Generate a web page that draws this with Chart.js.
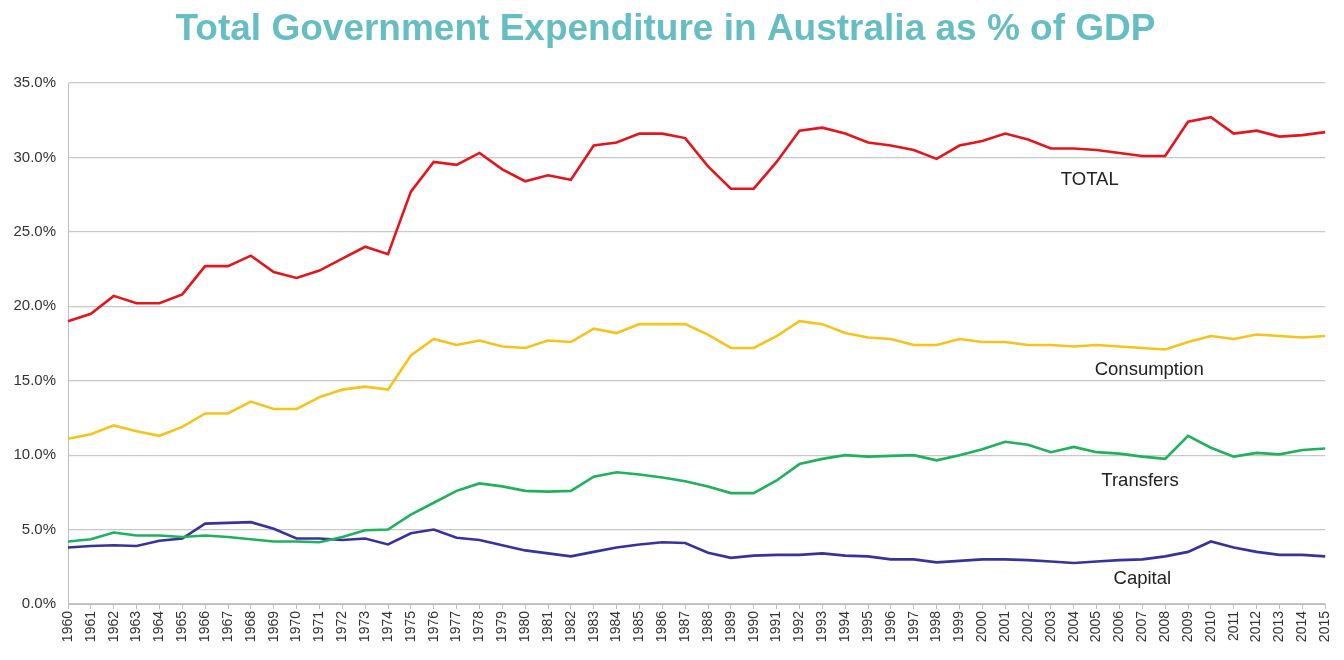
<!DOCTYPE html>
<html>
<head>
<meta charset="utf-8">
<script src="https://cdn.jsdelivr.net/npm/chart.js@4/dist/chart.umd.min.js"></script>
<style>
  html, body { margin: 0; padding: 0; background: #fff; }
  #wrap { width: 1344px; height: 660px; }
</style>
</head>
<body>
<div id="wrap"><canvas id="expChart" width="1344" height="660"></canvas></div>
<script>
// Years 1960-2015
const years = [
  "1960","1961","1962","1963","1964","1965","1966","1967","1968","1969",
  "1970","1971","1972","1973","1974","1975","1976","1977","1978","1979",
  "1980","1981","1982","1983","1984","1985","1986","1987","1988","1989",
  "1990","1991","1992","1993","1994","1995","1996","1997","1998","1999",
  "2000","2001","2002","2003","2004","2005","2006","2007","2008","2009",
  "2010","2011","2012","2013","2014","2015"
];

// % of GDP
const total = [
  19.0, 19.5, 20.7, 20.2, 20.2, 20.8, 22.7, 22.7, 23.4, 22.3,
  21.9, 22.4, 23.2, 24.0, 23.5, 27.7, 29.7, 29.5, 30.3, 29.2,
  28.4, 28.8, 28.5, 30.8, 31.0, 31.6, 31.6, 31.3, 29.4, 27.9,
  27.9, 29.7, 31.8, 32.0, 31.6, 31.0, 30.8, 30.5, 29.9, 30.8,
  31.1, 31.6, 31.2, 30.6, 30.6, 30.5, 30.3, 30.1, 30.1, 32.4,
  32.7, 31.6, 31.8, 31.4, 31.5, 31.7
];
const consumption = [
  11.1, 11.4, 12.0, 11.6, 11.3, 11.9, 12.8, 12.8, 13.6, 13.1,
  13.1, 13.9, 14.4, 14.6, 14.4, 16.7, 17.8, 17.4, 17.7, 17.3,
  17.2, 17.7, 17.6, 18.5, 18.2, 18.8, 18.8, 18.8, 18.1, 17.2,
  17.2, 18.0, 19.0, 18.8, 18.2, 17.9, 17.8, 17.4, 17.4, 17.8,
  17.6, 17.6, 17.4, 17.4, 17.3, 17.4, 17.3, 17.2, 17.1, 17.6,
  18.0, 17.8, 18.1, 18.0, 17.9, 18.0
];
const transfers = [
  4.2, 4.35, 4.8, 4.6, 4.6, 4.5, 4.6, 4.5, 4.35, 4.2,
  4.2, 4.15, 4.5, 4.95, 5.0, 6.0, 6.8, 7.6, 8.1, 7.9,
  7.6, 7.55, 7.6, 8.55, 8.85, 8.7, 8.5, 8.25, 7.9, 7.45,
  7.45, 8.3, 9.4, 9.75, 10.0, 9.9, 9.95, 10.0, 9.65, 10.0,
  10.4, 10.9, 10.7, 10.2, 10.55, 10.2, 10.1, 9.9, 9.75, 11.3,
  10.5, 9.9, 10.15, 10.05, 10.35, 10.45
];
const capital = [
  3.8, 3.9, 3.95, 3.9, 4.25, 4.4, 5.4, 5.45, 5.5, 5.05,
  4.4, 4.4, 4.3, 4.4, 4.0, 4.75, 5.0, 4.45, 4.3, 3.95,
  3.6, 3.4, 3.2, 3.5, 3.8, 4.0, 4.15, 4.1, 3.45, 3.1,
  3.25, 3.3, 3.3, 3.4, 3.25, 3.2, 3.0, 3.0, 2.8, 2.9,
  3.0, 3.0, 2.95, 2.85, 2.75, 2.85, 2.95, 3.0, 3.2, 3.5,
  4.2, 3.8, 3.5, 3.3, 3.3, 3.2
];

// in-chart series labels: [text, x index (year position), y value]
const seriesLabels = [
  ["TOTAL", 44.7, 28.5],
  ["Consumption", 47.3, 15.7],
  ["Transfers", 46.9, 8.3],
  ["Capital", 47.0, 1.7]
];

const inlineLabels = {
  id: "inlineLabels",
  afterDatasetsDraw(chart) {
    const { ctx, scales } = chart;
    ctx.save();
    ctx.font = "18.5px 'Liberation Sans', Arial, sans-serif";
    ctx.fillStyle = "#222";
    ctx.textAlign = "center";
    ctx.textBaseline = "middle";
    seriesLabels.forEach(([text, xi, yv]) => {
      ctx.fillText(text, scales.x.getPixelForValue(xi), scales.y.getPixelForValue(yv));
    });
    ctx.restore();
  }
};

const line = (label, data, color) => ({
  label, data,
  borderColor: color,
  backgroundColor: color,
  borderWidth: 2.6,
  pointRadius: 0,
  tension: 0
});

new Chart(document.getElementById("expChart").getContext("2d"), {
  type: "line",
  data: {
    labels: years,
    datasets: [
      line("TOTAL", total, "#e3161d"),
      line("Consumption", consumption, "#f4c41c"),
      line("Transfers", transfers, "#1fb15c"),
      line("Capital", capital, "#38339a")
    ]
  },
  options: {
    responsive: false,
    animation: false,
    layout: { padding: { left: 4, right: 17, top: 0, bottom: 4 } },
    plugins: {
      legend: { display: false },
      tooltip: { enabled: false },
      title: {
        display: true,
        text: "Total Government Expenditure in Australia as % of GDP",
        color: "#66bec3",
        font: { family: "'Liberation Sans', Arial, sans-serif", size: 37, weight: "bold" },
        padding: { top: 8, bottom: 30.6 }
      }
    },
    scales: {
      x: {
        offset: false,
        grid: { drawOnChartArea: false, color: "#bdbdbd", tickLength: 5 },
        border: { color: "#bdbdbd" },
        ticks: {
          autoSkip: false,
          maxRotation: 90,
          minRotation: 90,
          padding: 2,
          color: "#333",
          font: { family: "'Liberation Sans', Arial, sans-serif", size: 14 }
        },
        afterFit(scale) { scale.height = 52; }
      },
      y: {
        min: 0,
        max: 35,
        grid: { color: "#c8c8c8", lineWidth: 1.2, drawTicks: false },
        border: { color: "#bdbdbd" },
        ticks: {
          stepSize: 5,
          padding: 12,
          color: "#333",
          font: { family: "'Liberation Sans', Arial, sans-serif", size: 15 },
          callback: (v) => v.toFixed(1) + "%"
        },
        afterFit(scale) { scale.width = 64; }
      }
    }
  },
  plugins: [inlineLabels]
});
</script>
</body>
</html>
